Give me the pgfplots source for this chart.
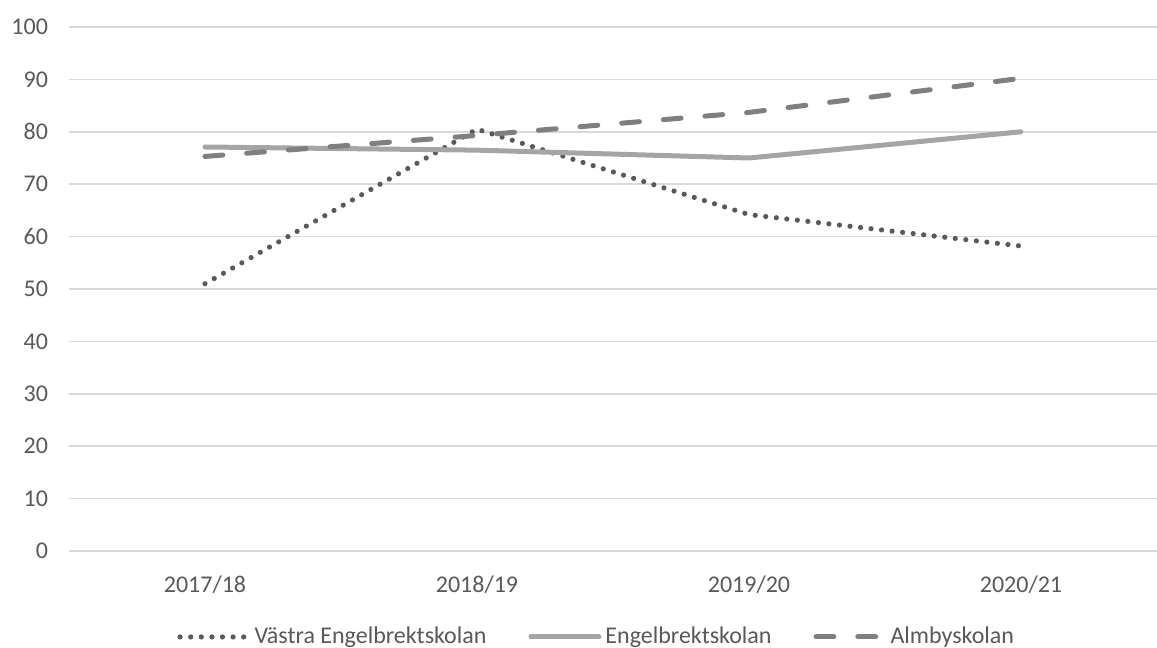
\documentclass[border=0pt]{standalone}
\usepackage{pgfplots}
\pgfplotsset{compat=1.18}
\usepackage{fontspec}
\setmainfont{Carlito}

\definecolor{txt}{HTML}{595959}
\definecolor{gridc}{HTML}{D9D9D9}
\definecolor{vastra}{HTML}{595959}
\definecolor{engel}{HTML}{A5A5A5}
\definecolor{almby}{HTML}{7F7F7F}

\begin{document}
\begin{tikzpicture}[font=\fontsize{12}{14}\selectfont]
% image frame: 1157x648 px at 0.5pt per px
\path[use as bounding box] (-34.5pt,-48.5pt) rectangle (544pt,275.5pt);
\begin{axis}[
    scale only axis,
    width=544pt, height=262pt,
    xmin=-0.5, xmax=3.5,
    ymin=0, ymax=100,
    ytick={0,10,...,100},
    xtick={0,1,2,3},
    xticklabels={2017/18,2018/19,2019/20,2020/21},
    axis line style={draw=none},
    ymajorgrids, xmajorgrids=false,
    grid style={draw=gridc, line width=0.75pt},
    major tick length=0pt,
    tick label style={text=txt},
    /pgf/number format/assume math mode=true,
    yticklabel style={xshift=-7pt},
    xticklabel style={yshift=-9pt},
    legend columns=3,
    legend style={draw=none, at={(0.486,-0.164)}, anchor=center,
        text=txt, /tikz/every even column/.append style={column sep=19pt}},
    legend image code/.code={\draw[#1] (0pt,0pt) -- (34pt,0pt);},
]
\addplot[vastra, line width=2.6pt, line cap=round, dash pattern=on 0pt off 5.3pt]
    coordinates {(0,51) (1,80.5) (2,64.2) (3,58.2)};
\addlegendentry{Västra Engelbrektskolan}
\addplot[engel, line width=2.5pt, line cap=round]
    coordinates {(0,77.1) (1,76.5) (2,75) (3,80)};
\addlegendentry{Engelbrektskolan}
\addplot[almby, line width=2.5pt, line cap=round, dash pattern=on 8.9pt off 12pt]
    coordinates {(0,75.3) (1,79.3) (2,83.7) (3,90.2)};
\addlegendentry{Almbyskolan}
\end{axis}
\end{tikzpicture}
\end{document}
